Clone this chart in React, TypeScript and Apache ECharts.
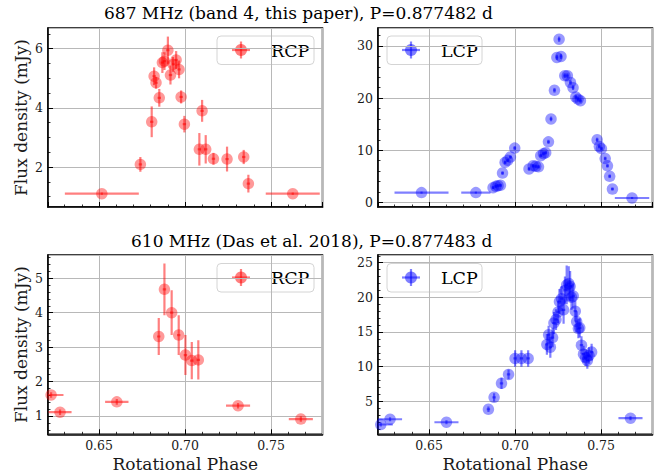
import React, { useEffect, useRef } from "react";
import * as echarts from "echarts";

// ---------- data: 687 MHz (band 4) ----------
const phaseRcp687 = [0.6516, 0.674, 0.6806, 0.682, 0.6831, 0.685, 0.6868, 0.688, 0.69, 0.6915, 0.693, 0.6948, 0.6965, 0.6977, 0.6996, 0.7083, 0.7099, 0.712, 0.7165, 0.7244, 0.7341, 0.7368, 0.7626];
const fluxRcp687 = [1.1, 2.09, 3.53, 5.07, 4.85, 4.34, 5.53, 5.58, 5.95, 5.11, 5.47, 5.62, 5.3, 4.37, 3.45, 2.6, 3.9, 2.6, 2.28, 2.27, 2.34, 1.44, 1.1];
const fluxErrRcp687 = [0.04, 0.25, 0.52, 0.3, 0.2, 0.3, 0.35, 0.3, 0.46, 0.32, 0.25, 0.3, 0.3, 0.22, 0.28, 0.55, 0.37, 0.48, 0.2, 0.42, 0.24, 0.3, 0.04];
const phaseErrRcp687 = [0.0215, 0.001, 0.001, 0.001, 0.001, 0.001, 0.001, 0.001, 0.001, 0.001, 0.001, 0.001, 0.001, 0.001, 0.001, 0.001, 0.001, 0.001, 0.001, 0.001, 0.001, 0.001, 0.0157];

const phaseLcp687 = [0.6456, 0.6772, 0.6872, 0.6888, 0.6901, 0.6915, 0.6927, 0.6942, 0.6957, 0.6973, 0.6998, 0.7081, 0.7105, 0.712, 0.7136, 0.7149, 0.7165, 0.7178, 0.7194, 0.7209, 0.7229, 0.7243, 0.7256, 0.7267, 0.7289, 0.7304, 0.7322, 0.7337, 0.7353, 0.7366, 0.738, 0.7477, 0.749, 0.7502, 0.7524, 0.7537, 0.755, 0.7566, 0.768];
const fluxLcp687 = [1.86, 1.86, 2.81, 3.07, 3.19, 3.26, 5.61, 7.66, 8.05, 8.68, 10.4, 6.4, 7.0, 6.9, 6.8, 8.94, 9.33, 9.52, 11.6, 16.0, 21.5, 27.8, 31.3, 28.0, 24.3, 24.3, 23.0, 22.0, 20.2, 19.8, 19.5, 12.0, 10.7, 10.3, 8.4, 7.0, 5.0, 2.55, 0.83];
const fluxErrLcp687 = [0.2, 0.2, 0.3, 0.3, 0.3, 0.3, 0.35, 0.35, 0.35, 0.35, 0.4, 0.35, 0.35, 0.35, 0.35, 0.35, 0.35, 0.35, 0.4, 0.45, 0.45, 0.5, 0.5, 0.5, 0.45, 0.45, 0.45, 0.45, 0.4, 0.4, 0.4, 0.4, 0.35, 0.35, 0.35, 0.35, 0.35, 0.3, 0.2];
const phaseErrLcp687 = [0.0157, 0.0085, 0.0008, 0.0008, 0.0008, 0.0008, 0.0008, 0.0008, 0.0008, 0.0008, 0.0008, 0.0008, 0.0008, 0.0008, 0.0008, 0.0008, 0.0008, 0.0008, 0.0008, 0.0008, 0.0008, 0.0008, 0.0008, 0.0008, 0.0008, 0.0008, 0.0008, 0.0008, 0.0008, 0.0008, 0.0008, 0.0008, 0.0008, 0.0008, 0.0008, 0.0008, 0.0008, 0.0008, 0.01];

// ---------- data: 610 MHz (Das et al. 2018) ----------
const phaseRcp610 = [0.6221, 0.6273, 0.6603, 0.6847, 0.688, 0.6922, 0.6963, 0.7002, 0.7039, 0.7077, 0.7308, 0.7673];
const fluxRcp610 = [1.61, 1.11, 1.41, 3.31, 4.68, 4.0, 3.35, 2.77, 2.61, 2.63, 1.3, 0.91];
const fluxErrRcp610 = [0.08, 0.08, 0.08, 0.54, 0.75, 0.65, 0.58, 0.58, 0.54, 0.57, 0.08, 0.08];
const phaseErrRcp610 = [0.0072, 0.0067, 0.0068, 0.001, 0.001, 0.001, 0.001, 0.001, 0.001, 0.001, 0.007, 0.007];

const phaseLcp610 = [0.6219, 0.6273, 0.6601, 0.6845, 0.6878, 0.6921, 0.6962, 0.7, 0.7037, 0.7076, 0.7185, 0.7195, 0.7205, 0.7218, 0.7226, 0.7238, 0.725, 0.7258, 0.727, 0.7282, 0.729, 0.73, 0.7312, 0.732, 0.7328, 0.7338, 0.735, 0.7358, 0.7368, 0.7376, 0.7386, 0.7398, 0.741, 0.742, 0.743, 0.7445, 0.7671];
const fluxLcp610 = [1.65, 2.41, 1.98, 3.85, 5.57, 7.59, 8.88, 11.18, 11.18, 11.18, 13.2, 14.6, 12.8, 14.2, 16.3, 16.8, 17.9, 19.4, 19.8, 18.2, 21.0, 21.8, 22.0, 21.6, 20.0, 20.2, 18.0, 16.5, 15.5, 15.6, 13.1, 11.8, 11.3, 10.9, 11.6, 12.1, 2.56];
const fluxErrLcp610 = [0.3, 0.3, 0.3, 0.4, 0.6, 0.8, 0.7, 1.2, 1.2, 1.2, 1.5, 1.3, 1.5, 1.4, 1.6, 1.5, 1.6, 1.8, 1.8, 2.0, 2.0, 2.8, 2.5, 2.2, 1.8, 1.8, 1.5, 1.5, 1.4, 1.4, 1.3, 1.2, 1.2, 1.2, 1.2, 1.2, 0.3];
const phaseErrLcp610 = [0.007, 0.007, 0.007, 0.001, 0.001, 0.001, 0.001, 0.001, 0.001, 0.001, 0.001, 0.001, 0.001, 0.001, 0.001, 0.001, 0.001, 0.001, 0.001, 0.001, 0.001, 0.001, 0.001, 0.001, 0.001, 0.001, 0.001, 0.001, 0.001, 0.001, 0.001, 0.001, 0.001, 0.001, 0.001, 0.001, 0.007];

// ---------- ticks ----------
const xMinorTicks = [0.63, 0.64, 0.65, 0.66, 0.67, 0.68, 0.69, 0.7, 0.71, 0.72, 0.73, 0.74, 0.75, 0.76, 0.77];
const yMinorRcp687 = [1, 1.5, 2, 2.5, 3, 3.5, 4, 4.5, 5, 5.5, 6, 6.5];
const yMinorLcp687 = [0, 2, 4, 6, 8, 10, 12, 14, 16, 18, 20, 22, 24, 26, 28, 30, 32];
const yMinorRcp610 = [0.6, 0.8, 1, 1.2, 1.4, 1.6, 1.8, 2, 2.2, 2.4, 2.6, 2.8, 3, 3.2, 3.4, 3.6, 3.8, 4, 4.2, 4.4, 4.6, 4.8, 5, 5.2, 5.4, 5.6];
const yMinorLcp610 = [1, 2, 3, 4, 5, 6, 7, 8, 9, 10, 11, 12, 13, 14, 15, 16, 17, 18, 19, 20, 21, 22, 23, 24, 25, 26];

const titleTop = "687 MHz (band 4, this paper), P=0.877482 d";
const titleBottom = "610 MHz (Das et al. 2018), P=0.877483 d";

const FONT = "DejaVu Serif";
const RED = "rgba(255,0,0,0.5)";
const BLUE = "rgba(0,0,255,0.5)";
const X_MIN = 0.6203;
const X_MAX = 0.7799;

function rows(p: number[], f: number[], pe: number[], fe: number[]) {
  return p.map((v, i) => [v, f[i], pe[i], fe[i]]);
}

const panels = [
  { data: rows(phaseRcp687, fluxRcp687, phaseErrRcp687, fluxErrRcp687), color: RED, label: "RCP", yMin: 0.65, yMax: 6.7, ySplit: 3, yMinor: yMinorRcp687, bottomRow: false, leftCol: true, grid: { left: 48, top: 28, width: 274.5, height: 179 } },
  { data: rows(phaseLcp687, fluxLcp687, phaseErrLcp687, fluxErrLcp687), color: BLUE, label: "LCP", yMin: -0.9, yMax: 33.45, ySplit: 3, yMinor: yMinorLcp687, bottomRow: false, leftCol: false, grid: { left: 378, top: 28, width: 274.5, height: 179 } },
  { data: rows(phaseRcp610, fluxRcp610, phaseErrRcp610, fluxErrRcp610), color: RED, label: "RCP", yMin: 0.468, yMax: 5.677, ySplit: 5, yMinor: yMinorRcp610, bottomRow: true, leftCol: true, grid: { left: 48, top: 255, width: 274.5, height: 179.3 } },
  { data: rows(phaseLcp610, fluxLcp610, phaseErrLcp610, fluxErrLcp610), color: BLUE, label: "LCP", yMin: 0.238, yMax: 26.11, ySplit: 5, yMinor: yMinorLcp610, bottomRow: true, leftCol: false, grid: { left: 378, top: 255, width: 274.5, height: 179.3 } },
];

function legendGraphic(x: number, y: number, w: number, color: string, label: string) {
  const cx = x + 24;
  const cy = y + 14;
  return {
    type: "group",
    z: 100,
    children: [
      { type: "rect", shape: { x, y, width: w, height: 28.5, r: 4 }, style: { fill: "rgba(255,255,255,0.8)", stroke: "#d4d4d4", lineWidth: 1 } },
      { type: "line", shape: { x1: cx - 9, y1: cy, x2: cx + 9, y2: cy }, style: { stroke: color, lineWidth: 2.2 } },
      { type: "line", shape: { x1: cx, y1: cy - 8.5, x2: cx, y2: cy + 8.5 }, style: { stroke: color, lineWidth: 2.2 } },
      { type: "circle", shape: { cx, cy, r: 6 }, style: { fill: color } },
      { type: "text", x: x + 54, y: cy + 0.5, style: { text: label, fontFamily: FONT, fontSize: 17.5, fill: "#000", textVerticalAlign: "middle", verticalAlign: "middle" } },
    ],
  };
}

function buildOption() {
  const grid: any[] = [];
  const xAxis: any[] = [];
  const yAxis: any[] = [];
  const series: any[] = [];
  const graphic: any[] = [];

  panels.forEach((p) => {
    grid.push({ ...p.grid, show: true, borderColor: "#000", borderWidth: 1.5, backgroundColor: "transparent", containLabel: false });
  });

  // main axes
  panels.forEach((p, i) => {
    xAxis.push({
      type: "value", gridIndex: i, position: "bottom", min: X_MIN, max: X_MAX, splitNumber: 3,
      axisLine: { show: true, onZero: false, lineStyle: { color: "#000", width: 1.5 } },
      axisTick: { show: true, inside: true, length: 5, lineStyle: { color: "#000", width: 1 } },
      axisLabel: { show: p.bottomRow, showMinLabel: false, showMaxLabel: false, margin: 5, color: "#1a1a1a", fontSize: 12.5, fontFamily: FONT, formatter: (v: number) => v.toFixed(2) },
      splitLine: { show: true, lineStyle: { color: "#b8b8b8", width: 1 } },
      name: p.bottomRow ? "Rotational Phase" : "", nameLocation: "middle", nameGap: 21,
      nameTextStyle: { fontFamily: FONT, fontSize: 17, color: "#1a1a1a" },
    });
    yAxis.push({
      type: "value", gridIndex: i, position: "left", min: p.yMin, max: p.yMax, splitNumber: p.ySplit,
      axisLine: { show: true, onZero: false, lineStyle: { color: "#000", width: 1.5 } },
      axisTick: { show: true, inside: true, length: 5, lineStyle: { color: "#000", width: 1 } },
      axisLabel: { show: true, showMinLabel: false, showMaxLabel: false, margin: 5, color: "#1a1a1a", fontSize: 12.5, fontFamily: FONT, formatter: (v: number) => String(Math.round(v)) },
      splitLine: { show: true, lineStyle: { color: "#b8b8b8", width: 1 } },
      name: p.leftCol ? "Flux density (mJy)" : "", nameLocation: "middle", nameGap: 19,
      nameTextStyle: { fontFamily: FONT, fontSize: 17, color: "#1a1a1a" },
    });
  });
  // minor tick axes
  panels.forEach((p, i) => {
    xAxis.push({
      type: "value", gridIndex: i, position: "bottom", min: X_MIN, max: X_MAX,
      axisLine: { show: false, onZero: false },
      axisTick: { show: true, inside: true, length: 2.5, customValues: xMinorTicks, lineStyle: { color: "#000", width: 0.8 } },
      axisLabel: { show: false, customValues: xMinorTicks },
      splitLine: { show: false },
    });
    yAxis.push({
      type: "value", gridIndex: i, position: "left", min: p.yMin, max: p.yMax,
      axisLine: { show: false, onZero: false },
      axisTick: { show: true, inside: true, length: 2.5, customValues: p.yMinor, lineStyle: { color: "#000", width: 0.8 } },
      axisLabel: { show: false, customValues: p.yMinor },
      splitLine: { show: false },
    });
  });

  panels.forEach((p, i) => {
    const color = p.color;
    series.push({
      type: "custom", xAxisIndex: i, yAxisIndex: i, data: p.data, z: 3, clip: true,
      encode: { x: 0, y: 1 },
      renderItem: (params: any, api: any) => {
        const x = api.value(0), y = api.value(1), xe = api.value(2), ye = api.value(3);
        const cs = params.coordSys;
        const cx = (v: number) => Math.max(cs.x, Math.min(cs.x + cs.width, v));
        const cy = (v: number) => Math.max(cs.y, Math.min(cs.y + cs.height, v));
        const l = api.coord([x - xe, y]);
        const r = api.coord([x + xe, y]);
        const b = api.coord([x, y - ye]);
        const t = api.coord([x, y + ye]);
        return {
          type: "group",
          children: [
            { type: "line", shape: { x1: cx(l[0]), y1: l[1], x2: cx(r[0]), y2: r[1] }, style: { stroke: color, lineWidth: 2.2 } },
            { type: "line", shape: { x1: b[0], y1: cy(b[1]), x2: t[0], y2: cy(t[1]) }, style: { stroke: color, lineWidth: 2.2 } },
          ],
        };
      },
    });
    series.push({
      type: "scatter", xAxisIndex: i, yAxisIndex: i, z: 4,
      data: p.data.map((d) => [d[0], d[1]]),
      symbol: "circle", symbolSize: 11.5,
      itemStyle: { color, borderWidth: 0 },
      emphasis: { disabled: true },
    });
    const lx = p.leftCol ? 217 : 387;
    const ly = p.bottomRow ? 263.5 : 36;
    graphic.push(legendGraphic(lx, ly, p.leftCol ? 97 : 95, color, p.label));
  });

  return {
    animation: false,
    backgroundColor: "#fff",
    textStyle: { fontFamily: FONT },
    title: [
      { text: titleTop, left: 104, top: 4, padding: 0, textStyle: { fontFamily: FONT, fontSize: 17, fontWeight: "normal", color: "#000" } },
      { text: titleBottom, left: 131, top: 232, padding: 0, textStyle: { fontFamily: FONT, fontSize: 17, fontWeight: "normal", color: "#000" } },
    ],
    grid, xAxis, yAxis, series, graphic,
  };
}

export default function App() {
  const ref = useRef<HTMLDivElement>(null);
  useEffect(() => {
    if (!ref.current) return;
    const chart = echarts.init(ref.current, null, { renderer: "svg" });
    chart.setOption(buildOption() as any);
    return () => chart.dispose();
  }, []);
  return <div ref={ref} style={{ position: "fixed", left: 0, top: 0, width: 667, height: 476, background: "#fff" }} />;
}
